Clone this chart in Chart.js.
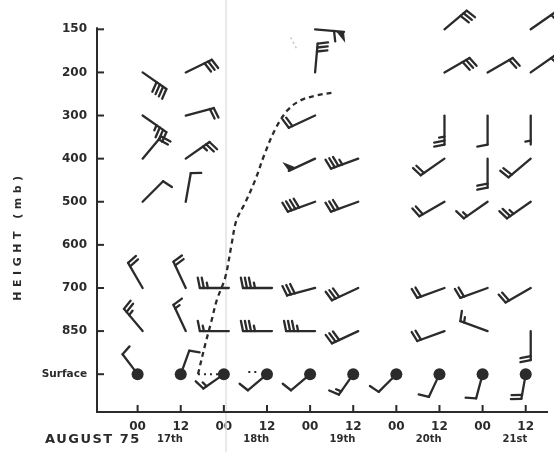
<!DOCTYPE html>
<html>
<head>
<meta charset="utf-8">
<script src="https://cdn.jsdelivr.net/npm/chart.js@4.4.1/dist/chart.umd.min.js"></script>
<style>
  html, body { margin: 0; padding: 0; background: #fff; }
  #wrap { width: 554px; height: 452px; }
</style>
</head>
<body>
<div id="wrap"><canvas id="chart" width="554" height="452"></canvas></div>
<script>
// soundings every 12 h, 00Z 17th .. 12Z 21st August 1975
const hours = [0, 12, 24, 36, 48, 60, 72, 84, 96, 108];
const hourLabels = ["00", "12", "00", "12", "00", "12", "00", "12", "00", "12"];
const dayLabels = ["17th", "18th", "19th", "20th", "21st"];
const levelLabels = ["150", "200", "300", "400", "500", "600", "700", "850", "Surface"];

// wind direction (deg, blowing from) and speed (kt), one value per sounding
const dir150 = [null, null, null, null, 95, null, null, 50, null, 55];
const spd150 = [null, null, null, null, 60, null, null, 30, null, 20];
const dir200 = [125, 64, null, null, 5, null, null, 60, 60, 55];
const spd200 = [40, 30, null, null, 30, null, null, 30, 20, 20];
const dir300 = [125, 75, null, null, 245, null, null, 180, 180, 180];
const spd300 = [35, 20, null, null, 20, null, null, 25, 10, 5];
const dir400 = [40, 55, null, null, 245, 250, null, 235, 180, 230];
const spd400 = [20, 25, null, null, 50, 35, null, 20, 20, 20];
const dir500 = [45, 10, null, null, 250, 250, null, 240, 235, 235];
const spd500 = [10, 10, null, null, 40, 30, null, 20, 15, 25];
const dir600 = [null, null, null, null, null, null, null, null, null, null];
const spd600 = [null, null, null, null, null, null, null, null, null, null];
const dir700 = [330, 335, 270, 270, 255, 245, null, 250, 250, 240];
const spd700 = [20, 20, 25, 35, 30, 30, null, 20, 20, 20];
const dir850 = [320, 335, 270, 270, 270, 245, null, 250, 290, 180];
const spd850 = [25, 15, 15, 35, 35, 30, null, 20, 15, 20];
const dirSfc = [323, 20, 235, 230, 230, 215, 225, 205, 195, 190];
const spdSfc = [10, 10, 15, 10, 10, 15, 10, 10, 10, 20];

// dashed boundary (hours, level index) and the dotted links at the surface
const curveHours = [16.8, 18.9, 20.6, 22.0, 24.4, 26.1, 27.5, 29.9, 32.7, 35.4, 38.4, 41.7, 45.3, 50.0, 54.9];
const curveLevels = [8.0, 7.28, 6.75, 6.29, 5.75, 5.01, 4.43, 4.03, 3.50, 2.88, 2.30, 1.88, 1.65, 1.53, 1.46];
const dotHoursA = [16.8, 23.0];
const dotHoursB = [30.8, 34.0];
const faintHours = [42.6, 44.5];
const faintLevels = [0.19, 0.49];

const ink = "#2b2b2b";
const windDir = [dir150, dir200, dir300, dir400, dir500, dir600, dir700, dir850, dirSfc];
const windSpd = [spd150, spd200, spd300, spd400, spd500, spd600, spd700, spd850, spdSfc];

const barbSets = levelLabels.map((lab, k) => ({
  label: lab,
  barbs: true,
  surface: k === 8,
  data: hours
    .map((h, i) => ({ x: h, y: k, dir: windDir[k][i], spd: windSpd[k][i] }))
    .filter(p => p.dir !== null),
  pointRadius: k === 8 ? 6 : 0,
  pointBackgroundColor: ink,
  pointBorderWidth: 0
}));

const lineSets = [
  {
    data: curveHours.map((h, i) => ({ x: h, y: curveLevels[i] })),
    showLine: true, borderColor: ink, borderWidth: 2.3, borderDash: [5, 4],
    pointRadius: 0, tension: 0.35
  },
  {
    data: dotHoursA.map(h => ({ x: h, y: 8 })),
    showLine: true, borderColor: ink, borderWidth: 2, borderDash: [2, 4], pointRadius: 0
  },
  {
    data: dotHoursB.map(h => ({ x: h, y: 7.95 })),
    showLine: true, borderColor: ink, borderWidth: 2, borderDash: [2, 4], pointRadius: 0
  },
  {
    data: faintHours.map((h, i) => ({ x: h, y: faintLevels[i] })),
    showLine: true, borderColor: "#c4c4c4", borderWidth: 1.5, borderDash: [2, 3], pointRadius: 0
  }
];

// one wind barb: shaft points to where the wind comes from, feathers on its right
function drawBarb(ctx, x, y, dir, spd, len, start) {
  const a = dir * Math.PI / 180;
  const ux = Math.sin(a), uy = -Math.cos(a);
  const rx = -uy, ry = ux;
  const tilt = 0.2;
  const fx = rx * Math.cos(tilt) + ux * Math.sin(tilt);
  const fy = ry * Math.cos(tilt) + uy * Math.sin(tilt);

  ctx.beginPath();
  ctx.moveTo(x + ux * start, y + uy * start);
  ctx.lineTo(x + ux * len, y + uy * len);
  ctx.stroke();

  let pos = len;
  let rest = Math.round(spd / 5) * 5;
  while (rest >= 50) {
    ctx.beginPath();
    ctx.moveTo(x + ux * pos, y + uy * pos);
    ctx.lineTo(x + ux * pos + fx * 11, y + uy * pos + fy * 11);
    ctx.lineTo(x + ux * (pos - 8), y + uy * (pos - 8));
    ctx.closePath();
    ctx.fill();
    pos -= 10;
    rest -= 50;
  }
  while (rest >= 10) {
    ctx.beginPath();
    ctx.moveTo(x + ux * pos, y + uy * pos);
    ctx.lineTo(x + ux * pos + fx * 10.5, y + uy * pos + fy * 10.5);
    ctx.stroke();
    pos -= 4;
    rest -= 10;
  }
  if (rest >= 5) {
    if (pos === len) pos -= 4;
    ctx.beginPath();
    ctx.moveTo(x + ux * pos, y + uy * pos);
    ctx.lineTo(x + ux * pos + fx * 5.5, y + uy * pos + fy * 5.5);
    ctx.stroke();
  }
}

const barbPlugin = {
  id: "barbs",
  afterDatasetsDraw(chart) {
    const ctx = chart.ctx;
    ctx.save();
    ctx.strokeStyle = ink;
    ctx.fillStyle = ink;
    ctx.lineWidth = 2.3;
    ctx.lineCap = "round";
    chart.data.datasets.forEach((ds, di) => {
      if (!ds.barbs) return;
      const meta = chart.getDatasetMeta(di);
      meta.data.forEach((pt, i) => {
        const d = ds.data[i];
        if (ds.surface) drawBarb(ctx, pt.x, pt.y, d.dir, d.spd, 25, 6);
        else drawBarb(ctx, pt.x + 5, pt.y, d.dir, d.spd, 29, 0);
      });
    });
    ctx.restore();
  }
};

// axes lines, inward ticks, fold line and extra text
const framePlugin = {
  id: "frame",
  beforeDatasetsDraw(chart) {
    const ctx = chart.ctx;
    const xs = chart.scales.x, ys = chart.scales.y;
    const area = chart.chartArea;
    ctx.save();
    // faint fold in the paper
    const fx = xs.getPixelForValue(24.6);
    ctx.strokeStyle = "#e2e2e2";
    ctx.lineWidth = 1.5;
    ctx.beginPath();
    ctx.moveTo(fx, 0);
    ctx.lineTo(fx, chart.height);
    ctx.stroke();

    ctx.strokeStyle = ink;
    ctx.lineWidth = 2;
    const y0 = ys.getPixelForValue(-0.05);
    const yb = area.bottom - 1;
    ctx.beginPath();
    ctx.moveTo(area.left, y0);
    ctx.lineTo(area.left, yb);
    ctx.lineTo(area.right, yb);
    ctx.stroke();

    levelLabels.forEach((_, k) => {
      const py = ys.getPixelForValue(k);
      ctx.beginPath();
      ctx.moveTo(area.left, py);
      ctx.lineTo(area.left + 7, py);
      ctx.stroke();
    });
    hours.forEach(h => {
      const px = xs.getPixelForValue(h);
      ctx.beginPath();
      ctx.moveTo(px, yb);
      ctx.lineTo(px, yb - 7);
      ctx.stroke();
    });
    ctx.restore();
  },
  afterDraw(chart) {
    const ctx = chart.ctx;
    const xs = chart.scales.x;
    ctx.save();
    ctx.fillStyle = ink;
    ctx.textBaseline = "middle";
    ctx.textAlign = "center";
    ctx.font = "bold 10px 'DejaVu Sans'";
    dayLabels.forEach((d, i) => {
      ctx.fillText(d, xs.getPixelForValue(i * 24 + 9), 439);
    });

    ctx.textAlign = "left";
    ctx.font = "bold 13px 'DejaVu Sans'";
    ctx.letterSpacing = "1.5px";
    ctx.fillText("AUGUST 75", 45, 440);

    ctx.translate(18, 238);
    ctx.rotate(-Math.PI / 2);
    ctx.textAlign = "center";
    ctx.font = "bold 11px 'DejaVu Sans'";
    ctx.letterSpacing = "4.5px";
    ctx.fillText("HEIGHT (mb)", 2, 0);
    ctx.restore();
  }
};

const tickFont = { family: "'DejaVu Sans'", size: 12, weight: "bold" };

new Chart(document.getElementById("chart"), {
  type: "scatter",
  data: { datasets: [...lineSets, ...barbSets] },
  options: {
    responsive: false,
    animation: false,
    layout: { padding: { top: 25, right: 0, bottom: 0, left: 0 } },
    plugins: { legend: { display: false }, tooltip: { enabled: false } },
    scales: {
      x: {
        type: "linear",
        min: -11.3,
        max: 114.2,
        afterBuildTicks: s => { s.ticks = hours.map(v => ({ value: v })); },
        afterFit: s => { s.height = 39; },
        grid: { display: false, drawTicks: false },
        border: { display: false },
        ticks: {
          callback: (v, i) => hourLabels[i],
          font: tickFont,
          color: ink,
          padding: 7,
          maxRotation: 0,
          autoSkip: false
        }
      },
      y: {
        type: "linear",
        reverse: true,
        min: -0.1,
        max: 8.9,
        afterBuildTicks: s => { s.ticks = levelLabels.map((_, k) => ({ value: k })); },
        afterFit: s => { s.width = 97; },
        grid: { display: false, drawTicks: false },
        border: { display: false },
        ticks: {
          callback: (v, i) => levelLabels[i],
          font: c => c.index === 8 ? { family: "'DejaVu Sans'", size: 10.5, weight: "bold" } : tickFont,
          color: ink,
          padding: 10,
          autoSkip: false
        }
      }
    }
  },
  plugins: [framePlugin, barbPlugin]
});
</script>
</body>
</html>
